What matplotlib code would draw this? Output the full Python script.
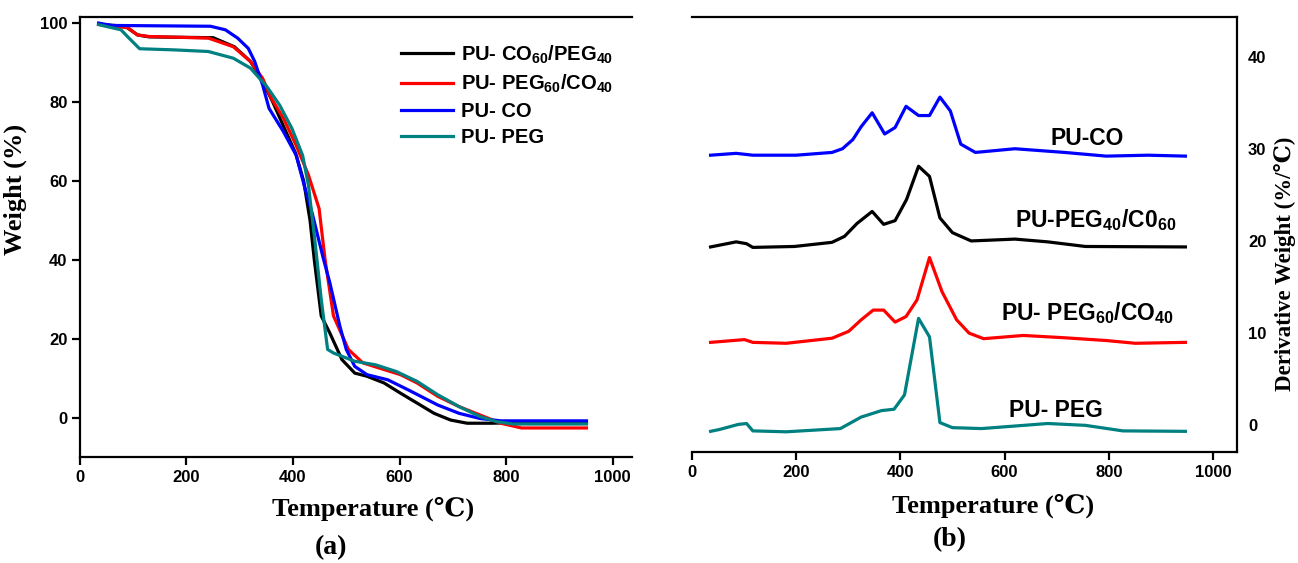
import matplotlib
matplotlib.use("Agg")
import matplotlib.pyplot as plt

# Fonts: bold Arial-like ticks/labels, bold Times-like axis titles
plt.rcParams['mathtext.fontset'] = 'custom'
plt.rcParams['mathtext.rm'] = 'Liberation Sans:bold'
plt.rcParams['mathtext.it'] = 'Liberation Sans:bold'
plt.rcParams['mathtext.bf'] = 'Liberation Sans:bold'
sans = ['Liberation Sans', 'DejaVu Sans']
serif = ['Liberation Serif', 'DejaVu Serif', 'DejaVu Sans']

# (a) TGA weight loss curves
t_co60 = [35, 85, 108, 130, 250, 290, 320, 340, 362, 385, 405, 420, 432, 440, 453, 469, 492, 516, 539, 571, 602, 633, 665, 696, 727, 774, 806, 951]
w_co60 = [99.7, 99.2, 97.0, 96.5, 96.3, 94.0, 90.3, 86.0, 80.0, 73.0, 67.0, 60.0, 50.0, 40.0, 25.8, 21.5, 14.7, 11.3, 10.5, 8.8, 6.2, 3.7, 1.1, -0.6, -1.4, -1.4, -1.3, -1.3]

t_peg60 = [35, 90, 108, 130, 241, 288, 320, 343, 359, 382, 406, 429, 449, 460, 476, 504, 531, 571, 602, 633, 672, 712, 751, 790, 829, 951]
w_peg60 = [99.7, 98.8, 97.0, 96.6, 96.2, 94.0, 90.3, 86.0, 81.0, 75.9, 69.0, 61.5, 53.0, 40.3, 25.8, 17.3, 13.9, 12.2, 10.9, 8.8, 5.4, 2.8, 0.7, -1.4, -2.6, -2.6]

t_co = [35, 60, 245, 273, 296, 316, 328, 343, 355, 382, 406, 421, 437, 457, 469, 488, 500, 516, 539, 578, 617, 672, 712, 751, 790, 951]
w_co = [100.0, 99.4, 99.2, 98.3, 96.2, 93.6, 90.3, 84.3, 78.4, 72.5, 66.5, 58.9, 51.3, 40.3, 34.3, 23.2, 17.3, 13.0, 10.9, 9.6, 7.0, 3.2, 1.1, -0.2, -0.8, -0.8]

t_peg = [35, 77, 92, 112, 179, 241, 288, 320, 351, 375, 398, 418, 429, 441, 453, 465, 476, 516, 555, 594, 633, 672, 712, 751, 782, 813, 951]
w_peg = [99.6, 98.3, 96.2, 93.5, 93.2, 92.8, 91.1, 88.6, 83.9, 79.2, 73.3, 66.5, 58.9, 45.0, 30.0, 17.3, 16.4, 14.3, 13.4, 11.7, 9.2, 5.8, 2.8, 0.3, -1.0, -1.6, -1.6]

# (b) DTG curves (offset vertically)
dt_co = [36, 85, 117, 200, 269, 289, 309, 325, 346, 370, 390, 411, 435, 456, 476, 496, 516, 544, 620, 715, 795, 875, 947]
d_co = [29.3, 29.5, 29.3, 29.3, 29.6, 30.0, 31.0, 32.4, 33.9, 31.6, 32.3, 34.6, 33.6, 33.6, 35.6, 34.1, 30.5, 29.6, 30.0, 29.6, 29.2, 29.3, 29.2]

dt_peg40 = [36, 85, 105, 117, 197, 269, 293, 317, 346, 368, 390, 412, 435, 456, 476, 500, 536, 620, 683, 755, 947]
d_peg40 = [19.35, 19.9, 19.7, 19.3, 19.4, 19.85, 20.5, 21.9, 23.2, 21.8, 22.2, 24.5, 28.1, 27.0, 22.5, 20.9, 20.0, 20.2, 19.9, 19.4, 19.35]

dt_peg60 = [36, 101, 117, 181, 269, 301, 325, 348, 368, 390, 411, 432, 456, 480, 508, 532, 560, 636, 715, 795, 851, 947]
d_peg60 = [9.0, 9.3, 9.0, 8.9, 9.45, 10.2, 11.45, 12.5, 12.5, 11.2, 11.8, 13.6, 18.2, 14.5, 11.45, 10.0, 9.4, 9.75, 9.5, 9.2, 8.9, 9.0]

dt_peg = [36, 53, 89, 105, 117, 181, 285, 325, 364, 388, 408, 435, 456, 476, 500, 556, 683, 755, 827, 947]
d_peg = [-0.65, -0.45, 0.1, 0.2, -0.6, -0.7, -0.35, 0.9, 1.6, 1.75, 3.3, 11.6, 9.6, 0.3, -0.25, -0.35, 0.2, 0.0, -0.6, -0.65]

teal = '#008080'

fig = plt.figure(figsize=(12.98, 5.63), dpi=100)
ax1 = fig.add_axes([0.0616, 0.188, 0.4255, 0.7815])
ax2 = fig.add_axes([0.533, 0.197, 0.42, 0.773])

lw = 2.3
ax1.plot(t_co60, w_co60, color='black', lw=lw, label='PU- CO$_{60}$/PEG$_{40}$')
ax1.plot(t_peg60, w_peg60, color='red', lw=lw, label='PU- PEG$_{60}$/CO$_{40}$')
ax1.plot(t_co, w_co, color='blue', lw=lw, label='PU- CO')
ax1.plot(t_peg, w_peg, color=teal, lw=lw, label='PU- PEG')

ax1.set_xlim(0, 1037)
ax1.set_ylim(-10, 101.5)
ax1.set_xticks(range(0, 1001, 200))
ax1.set_yticks(range(0, 101, 20))
ax1.spines['right'].set_visible(False)
for s in ['left', 'bottom', 'top']:
    ax1.spines[s].set_linewidth(1.6)
ax1.tick_params(direction='out', length=6, width=1.6, labelsize=12, pad=3)
for lab in ax1.get_xticklabels() + ax1.get_yticklabels():
    lab.set_family(sans)
    lab.set_fontweight('bold')

ax1.set_xlabel('Temperature (℃)', fontsize=19, fontweight='bold', family=serif)
ax1.xaxis.set_label_coords(0.531, -0.09)
ax1.set_ylabel('Weight (%)', fontsize=19, fontweight='bold', family=serif)
ax1.yaxis.set_label_coords(-0.096, 0.609)

leg = ax1.legend(loc='upper left', bbox_to_anchor=(0.548, 0.982), frameon=False,
                 handlelength=2.6, handletextpad=0.4, labelspacing=0.35,
                 prop={'family': sans, 'weight': 'bold', 'size': 14.5})

ax2.plot(dt_co, d_co, color='blue', lw=lw)
ax2.plot(dt_peg40, d_peg40, color='black', lw=lw)
ax2.plot(dt_peg60, d_peg60, color='red', lw=lw)
ax2.plot(dt_peg, d_peg, color=teal, lw=lw)

ax2.set_xlim(0, 1046)
ax2.set_ylim(-2.9, 44.3)
ax2.set_xticks(range(0, 1001, 200))
ax2.set_yticks(range(0, 41, 10))
ax2.spines['left'].set_visible(False)
for s in ['right', 'bottom', 'top']:
    ax2.spines[s].set_linewidth(1.6)
ax2.yaxis.tick_right()
ax2.tick_params(axis='x', direction='out', length=6, width=1.6, labelsize=12, pad=3)
ax2.tick_params(axis='y', length=0, labelsize=12, pad=8)
for lab in ax2.get_xticklabels() + ax2.get_yticklabels():
    lab.set_family(sans)
    lab.set_fontweight('bold')

ax2.set_xlabel('Temperature (℃)', fontsize=19, fontweight='bold', family=serif)
ax2.xaxis.set_label_coords(0.552, -0.096)
ax2.yaxis.set_label_position('right')
ax2.set_ylabel('Derivative Weight (%/℃)', fontsize=16.5, fontweight='bold', family=serif, rotation=90)
ax2.yaxis.set_label_coords(1.068, 0.432)

curve_font = {'family': sans, 'weight': 'bold', 'size': 16.5}
ax2.text(758, 31.1, 'PU-CO', ha='center', va='center', **curve_font)
ax2.text(620, 22.3, 'PU-PEG$_{40}$/C0$_{60}$', ha='left', va='center', **curve_font)
ax2.text(593, 12.2, 'PU- PEG$_{60}$/CO$_{40}$', ha='left', va='center', **curve_font)
ax2.text(608, 1.6, 'PU- PEG', ha='left', va='center', **curve_font)

fig.text(0.255, 0.027, '(a)', ha='center', va='center', fontsize=20, fontweight='bold', family=serif)
fig.text(0.732, 0.041, '(b)', ha='center', va='center', fontsize=20, fontweight='bold', family=serif)

fig.savefig('out.png', dpi=100)
